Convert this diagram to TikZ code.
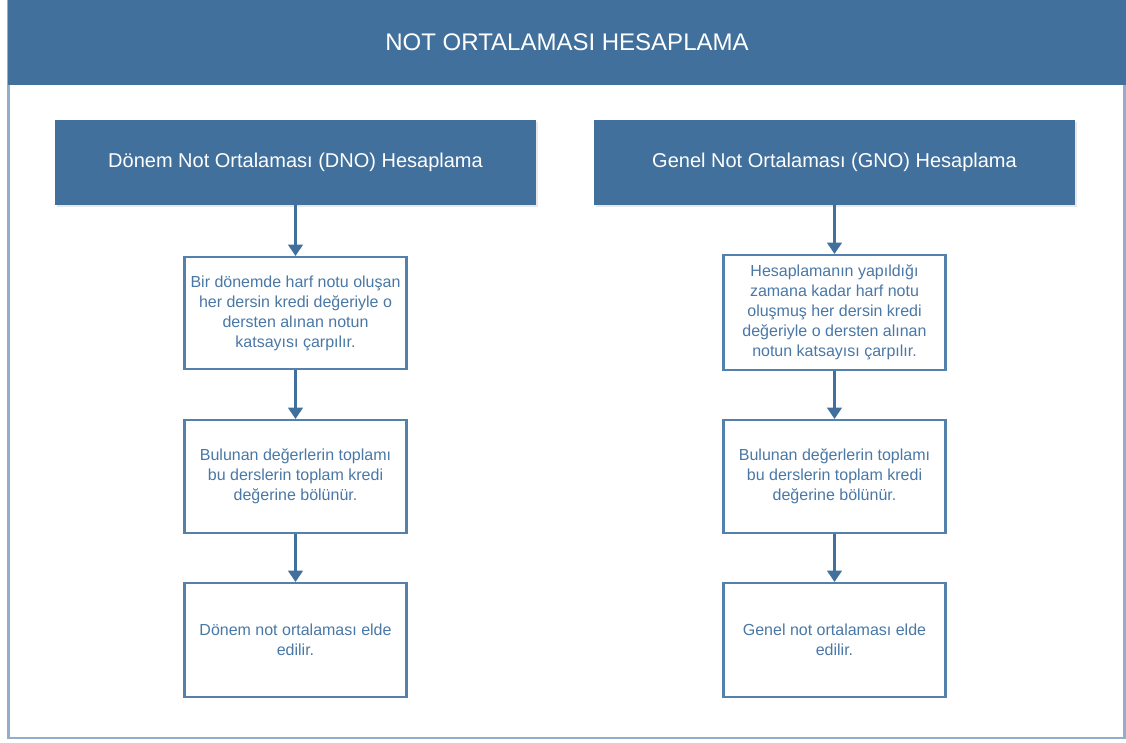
\documentclass[tikz,border=0pt]{standalone}
\usepackage{fontspec}
\setmainfont{Liberation Sans}
\usetikzlibrary{arrows.meta,shadows}
\definecolor{navy}{HTML}{41709C}
\definecolor{boxedge}{HTML}{5480AC}
\definecolor{textcol}{HTML}{4A78A6}
\definecolor{framecol}{HTML}{94ADCA}
\tikzset{
  titlebar/.style={fill=navy, draw=none, text=white, minimum width=838.5pt, minimum height=63.75pt,
    inner sep=0pt, font=\fontsize{18}{22}\selectfont},
  headbox/.style={fill=navy, draw=none, text=white, minimum width=360.75pt, minimum height=63.75pt,
    inner sep=0pt, font=\fontsize{15}{18}\selectfont,
    drop shadow={opacity=0.18, shadow xshift=1.2pt, shadow yshift=-1.2pt}},
  stepbox/.style={draw=boxedge, line width=1.6pt, fill=white, text=textcol, minimum width=166.5pt,
    minimum height=84.75pt, inner sep=0pt, align=center, font=\fontsize{12}{15}\selectfont,
    drop shadow={opacity=0.12, shadow xshift=1pt, shadow yshift=-1pt}},
  flow/.style={draw=navy, line width=1.8pt, -{Triangle[width=11pt,length=8.5pt]}}
}
\begin{document}
\begin{tikzpicture}[x=0.75pt,y=-0.75pt]
\useasboundingbox (0,0) rectangle (1126,742);
% outer frame
\draw[framecol, line width=1.6pt] (8.5,0) rectangle (1124.5,738);
% title bar
\node[titlebar] (title) at (567,42.5) {NOT ORTALAMASI HESAPLAMA};
% column headers
\node[headbox] (hdrL) at (295.5,162.5) {Dönem Not Ortalaması (DNO) Hesaplama};
\node[headbox] (hdrR) at (834.5,162.5) {Genel Not Ortalaması (GNO) Hesaplama};
% left column steps
\node[stepbox, minimum height=84pt] (l1) at (295.5,313) {Bir dönemde harf notu oluşan\\her dersin kredi değeriyle o\\dersten alınan notun\\katsayısı çarpılır.};
\node[stepbox] (l2) at (295.5,476.5) {Bulunan değerlerin toplamı\\bu derslerin toplam kredi\\değerine bölünür.};
\node[stepbox, minimum height=85.5pt] (l3) at (295.5,640) {Dönem not ortalaması elde\\edilir.};
% right column steps
\node[stepbox, minimum height=86.25pt] (r1) at (834.5,312.5) {Hesaplamanın yapıldığı\\zamana kadar harf notu\\oluşmuş her dersin kredi\\değeriyle o dersten alınan\\notun katsayısı çarpılır.};
\node[stepbox] (r2) at (834.5,476.5) {Bulunan değerlerin toplamı\\bu derslerin toplam kredi\\değerine bölünür.};
\node[stepbox, minimum height=85.5pt] (r3) at (834.5,640) {Genel not ortalaması elde\\edilir.};
% connectors
\draw[flow] (hdrL.south) -- (l1.north);
\draw[flow] (l1.south) -- (l2.north);
\draw[flow] (l2.south) -- (l3.north);
\draw[flow] (hdrR.south) -- (r1.north);
\draw[flow] (r1.south) -- (r2.north);
\draw[flow] (r2.south) -- (r3.north);
\end{tikzpicture}
\end{document}
